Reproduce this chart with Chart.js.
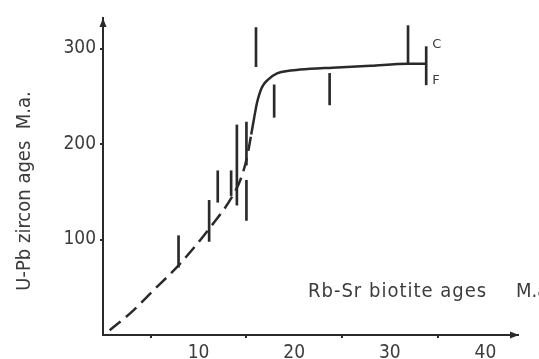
<!DOCTYPE html>
<html>
<head>
<meta charset="utf-8">
<script src="https://cdn.jsdelivr.net/npm/chart.js@4.4.1/dist/chart.umd.min.js"></script>
<style>
html, body { margin: 0; padding: 0; background: #fff; }
</style>
</head>
<body>
<canvas id="ageChart" width="539" height="359"></canvas>
<script>
// Rb-Sr biotite age (x) vs U-Pb zircon age (y), both in M.a.
var curveX = [0.7, 3.1, 5.2, 8.0, 11.0, 13.5, 14.5, 15.1, 15.5, 15.8, 16.1, 16.6, 17.2, 18.2, 19.6, 20.6, 24.0, 28.0, 31.9, 33.8];
var curveY = [5, 25, 46, 74, 110, 145, 166, 188, 210, 227, 243, 259, 267, 274, 277, 278, 280, 282, 284, 284];
var dashedBelow = 15.2;

// vertical age ranges
var barX    = [7.9, 11.1, 12.0, 13.4, 14.0, 15.0, 15.0, 16.0, 17.9, 23.7, 31.9, 33.8];
var barLow  = [71,  98,  139, 146, 136, 178, 120, 281, 228, 241, 284, 262];
var barHigh = [104, 141, 172, 172, 220, 223, 162, 322, 262, 274, 324, 302];

var xTicks = [10, 20, 30, 40];
var yTicks = [100, 200, 300];

var ink = '#2a2a2a';
var textInk = '#3c3c3c';

var curveData = curveX.map(function(x, i) { return {x: x, y: curveY[i]}; });
var barData = barX.map(function(x, i) { return {x: x, y: [barLow[i], barHigh[i]]}; });

var extras = {
    id: 'extras',
    afterDraw: function(chart) {
        var ctx = chart.ctx;
        var a = chart.chartArea;
        var xs = chart.scales.x, ys = chart.scales.y;
        ctx.save();
        ctx.fillStyle = ink;
        // arrow heads on the axes
        ctx.beginPath();
        ctx.moveTo(a.left, a.top);
        ctx.lineTo(a.left - 3.5, a.top + 9);
        ctx.lineTo(a.left + 3.5, a.top + 9);
        ctx.closePath();
        ctx.fill();
        ctx.beginPath();
        ctx.moveTo(a.right + 1, a.bottom);
        ctx.lineTo(a.right - 8, a.bottom - 3.5);
        ctx.lineTo(a.right - 8, a.bottom + 3.5);
        ctx.closePath();
        ctx.fill();

        ctx.fillStyle = textInk;
        ctx.font = '20px "DejaVu Sans Condensed"';
        ctx.textBaseline = 'alphabetic';
        ctx.textAlign = 'left';
        ctx.letterSpacing = '1px';
        ctx.fillText('Rb-Sr biotite ages', 308, 297);
        ctx.letterSpacing = '0px';
        ctx.fillText('M.a.', 516, 297);

        ctx.save();
        ctx.translate(30, 191);
        ctx.rotate(-Math.PI / 2);
        ctx.textAlign = 'center';
        ctx.fillText('U-Pb zircon ages  M.a.', 0, 0);
        ctx.restore();

        // C / F marks beside the last range
        var last = barX.length - 1;
        var px = xs.getPixelForValue(barX[last]) + 6;
        ctx.font = '13px "DejaVu Sans"';
        ctx.textBaseline = 'middle';
        ctx.fillText('C', px, ys.getPixelForValue(barHigh[last]) - 2);
        ctx.fillText('F', px, ys.getPixelForValue(barLow[last]) - 4);
        ctx.restore();
    }
};

var chart = new Chart(document.getElementById('ageChart').getContext('2d'), {
    type: 'line',
    data: {
        datasets: [
            {
                type: 'line',
                data: curveData,
                borderColor: ink,
                borderWidth: 2.5,
                pointRadius: 0,
                cubicInterpolationMode: 'monotone',
                segment: {
                    borderDash: function(c) { return c.p1.parsed.x <= dashedBelow + 0.3 ? [14, 7] : undefined; }
                }
            },
            {
                type: 'bar',
                data: barData,
                backgroundColor: ink,
                borderWidth: 0,
                barThickness: 2
            }
        ]
    },
    plugins: [extras],
    options: {
        responsive: false,
        animation: false,
        layout: { padding: { top: 18, right: 21, left: 0, bottom: 0 } },
        plugins: {
            legend: { display: false },
            tooltip: { enabled: false }
        },
        scales: {
            x: {
                type: 'linear',
                min: 0,
                max: 43.4,
                offset: false,
                afterFit: function(s) { s.height = 24; },
                afterBuildTicks: function(s) { s.ticks = xTicks.map(function(v) { return {value: v}; }); },
                grid: { display: true, drawOnChartArea: false, tickLength: 3, color: ink, lineWidth: 2 },
                border: { display: true, color: ink, width: 2 },
                ticks: { color: textInk, font: { family: 'DejaVu Sans Condensed', size: 19 }, padding: 4, maxRotation: 0 }
            },
            y: {
                type: 'linear',
                min: 0,
                max: 332,
                afterFit: function(s) { s.width = 103; },
                afterBuildTicks: function(s) { s.ticks = yTicks.map(function(v) { return {value: v}; }); },
                grid: { display: true, drawOnChartArea: false, tickLength: 3, color: ink, lineWidth: 2 },
                border: { display: true, color: ink, width: 2 },
                ticks: { color: textInk, font: { family: 'DejaVu Sans Condensed', size: 19 }, padding: 4 }
            }
        }
    }
});
</script>
</body>
</html>
